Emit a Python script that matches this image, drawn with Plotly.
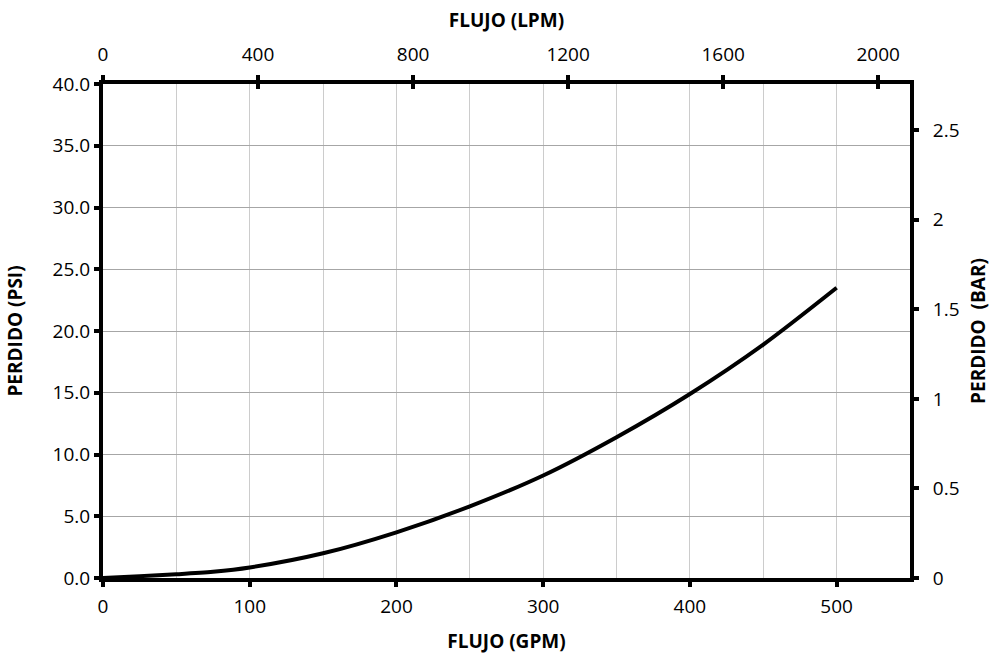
import plotly.graph_objects as go

# Data
flow_gpm = [0, 25, 50, 75, 100, 150, 200, 250, 300, 350, 400, 450, 500]
loss_psi = [0.0, 0.15, 0.3, 0.5, 0.85, 2.0, 3.7, 5.8, 8.3, 11.4, 14.9, 18.9, 23.5]

x_max_gpm = 550
y_max_psi = 40
GPM_TO_LPM = 3.785411784
PSI_TO_BAR = 1 / 14.5038

lpm_ticks = [0, 400, 800, 1200, 1600, 2000]
bar_ticks = [0, 0.5, 1, 1.5, 2, 2.5]
bar_labels = ["0", "0.5", "1", "1.5", "2", "2.5"]

FONT = "Open Sans, Liberation Sans, sans-serif"
tickfont = dict(family=FONT, size=19, color="black")
titlefont = dict(family=FONT, size=19, color="black", weight="bold")

fig = go.Figure()
fig.add_trace(go.Scatter(
    x=flow_gpm, y=loss_psi, mode="lines",
    line=dict(color="black", width=4, shape="spline", smoothing=0.8),
    showlegend=False, hoverinfo="x+y",
))
# invisible traces to activate secondary axes
fig.add_trace(go.Scatter(x=[0], y=[0], xaxis="x2", yaxis="y", mode="markers",
                         marker=dict(opacity=0), showlegend=False, hoverinfo="skip"))
fig.add_trace(go.Scatter(x=[0], y=[0], xaxis="x", yaxis="y2", mode="markers",
                         marker=dict(opacity=0), showlegend=False, hoverinfo="skip"))
fig.add_trace(go.Scatter(x=[0], y=[0], xaxis="x3", yaxis="y", mode="markers",
                         marker=dict(opacity=0), showlegend=False, hoverinfo="skip"))

fig.update_layout(
    width=993, height=658,
    margin=dict(l=103, r=83, t=84, b=80, autoexpand=False),
    paper_bgcolor="white", plot_bgcolor="white",
    xaxis=dict(
        range=[0, x_max_gpm], dtick=100, tick0=0, automargin=False,
        showgrid=True, gridcolor="#cccccc", gridwidth=1,
        minor=dict(dtick=50, showgrid=True, gridcolor="#cccccc", gridwidth=1, ticks=""),
        ticks="outside", ticklen=5, tickwidth=4, tickcolor="black",
        showline=True, linecolor="black", linewidth=4, ticklabelstandoff=3,
        tickfont=tickfont, zeroline=False,
        title=dict(text="FLUJO (GPM)", font=titlefont, standoff=18),
    ),
    xaxis2=dict(
        overlaying="x", side="top", range=[0, x_max_gpm * GPM_TO_LPM], automargin=False,
        tickvals=lpm_ticks, showgrid=False, zeroline=False,
        ticks="outside", ticklen=5, tickwidth=4, tickcolor="black",
        showline=True, linecolor="black", linewidth=4, ticklabelstandoff=6,
        tickfont=tickfont,
        title=dict(text="FLUJO (LPM)", font=titlefont, standoff=10),
    ),
    xaxis3=dict(
        overlaying="x", side="top", range=[0, x_max_gpm * GPM_TO_LPM], automargin=False,
        tickvals=lpm_ticks, showgrid=False, zeroline=False, showticklabels=False,
        ticks="inside", ticklen=5, tickwidth=4, tickcolor="black", showline=False,
    ),
    yaxis=dict(
        range=[0, y_max_psi], dtick=5, tick0=0, tickformat=".1f", automargin=False,
        showgrid=True, gridcolor="#a6a6a6", gridwidth=1,
        ticks="outside", ticklen=5, tickwidth=4, tickcolor="black",
        showline=True, linecolor="black", linewidth=4,
        tickfont=tickfont, zeroline=False,
        title=dict(text="PERDIDO (PSI)", font=titlefont, standoff=26),
    ),
    yaxis2=dict(
        overlaying="y", side="right", range=[0, y_max_psi * PSI_TO_BAR], automargin=False,
        tickvals=bar_ticks, ticktext=bar_labels, showgrid=False, zeroline=False,
        ticks="outside", ticklen=5, tickwidth=4, tickcolor="black",
        showline=True, linecolor="black", linewidth=4, ticklabelstandoff=10,
        tickfont=tickfont,
        title=dict(text="PERDIDO  (BAR)", font=titlefont, standoff=14),
    ),
)

fig.write_html("out.html", config={"displayModeBar": False},
               post_script="document.body.style.margin='0';")
